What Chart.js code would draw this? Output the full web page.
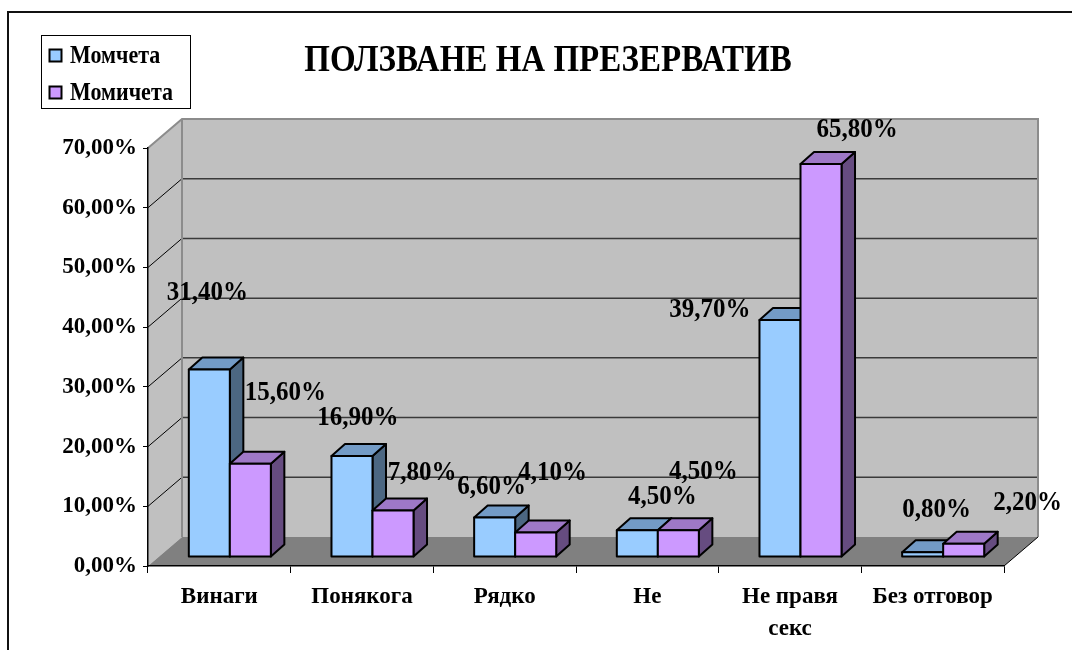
<!DOCTYPE html>
<html lang="bg">
<head>
<meta charset="utf-8">
<title>Ползване на презерватив</title>
<script src="https://cdn.jsdelivr.net/npm/chart.js@4.4.1/dist/chart.umd.min.js"></script>
<style>
  html, body { margin: 0; padding: 0; background: #fff; }
  #wrap { position: relative; width: 1072px; height: 650px; }
</style>
</head>
<body>
<div id="wrap"><canvas id="grafik" width="1072" height="650"></canvas></div>
<script>
// Данни (проценти)
const kategorii = ['Винаги', 'Понякога', 'Рядко', 'Не', ['Не правя', 'секс'], 'Без отговор'];
const momcheta  = [31.4, 16.9, 6.6, 4.5, 39.7, 0.8];
const momicheta = [15.6, 7.8, 4.1, 4.5, 65.8, 2.2];
const yTikove   = [0, 10, 20, 30, 40, 50, 60, 70];

const SHRIFT = '"Liberation Serif", "Times New Roman", serif';

// 3D наклон: стена (дълбочина на целия график) и колони
const STENA_DX = 34, STENA_DY = -29;
const BAR_OTM_DX = 10.5, BAR_OTM_DY = -9;    // колко навътре стоят колоните
const BAR_DX = 13.5, BAR_DY = -12;           // дълбочина на колоната

const CVETOVE = [
  { lice: '#99ccff', gore: '#739bc6', strana: '#4c6782' },
  { lice: '#cc99ff', gore: '#9e78c7', strana: '#664c80' },
];

// етикетите в оригинала са местени на ръка – отместване от горния ръб на колоната
const POMESTVANE = [
  [[-2, -77], [6, -38], [-3, -31], [25, -33], [-70, -10], [14, -42]],
  [[35, -71], [29, -38], [17, -60], [25, -58], [36, -34], [64, -41]],
];

const formatProcent = v => v.toFixed(2).replace('.', ',') + '%';

// текстът в Excel е малко разтеглен по височина
function tekst(ctx, t, x, y, razteg) {
  ctx.save();
  ctx.translate(x, y);
  ctx.scale(1, razteg);
  ctx.fillText(t, 0, 0);
  ctx.restore();
}

function kutia(ctx, x0, x1, yGore, yDolu, c) {
  ctx.lineWidth = 2;
  ctx.strokeStyle = '#000';
  ctx.lineJoin = 'round';
  // дясна страна
  ctx.beginPath();
  ctx.moveTo(x1, yDolu);
  ctx.lineTo(x1 + BAR_DX, yDolu + BAR_DY);
  ctx.lineTo(x1 + BAR_DX, yGore + BAR_DY);
  ctx.lineTo(x1, yGore);
  ctx.closePath();
  ctx.fillStyle = c.strana;
  ctx.fill();
  ctx.stroke();
  // горна страна
  ctx.beginPath();
  ctx.moveTo(x0, yGore);
  ctx.lineTo(x0 + BAR_DX, yGore + BAR_DY);
  ctx.lineTo(x1 + BAR_DX, yGore + BAR_DY);
  ctx.lineTo(x1, yGore);
  ctx.closePath();
  ctx.fillStyle = c.gore;
  ctx.fill();
  ctx.stroke();
  // лице
  ctx.fillStyle = c.lice;
  ctx.fillRect(x0, yGore, x1 - x0, yDolu - yGore);
  ctx.strokeRect(x0, yGore, x1 - x0, yDolu - yGore);
}

const pluginStena = {
  id: 'stena',
  beforeDraw(chart) {
    const { ctx, scales: { x, y } } = chart;
    const L = x.left, R = x.right, T = y.top, B = y.bottom;
    ctx.save();
    // рамка на целия график
    ctx.strokeStyle = '#111';
    ctx.lineWidth = 2;
    ctx.beginPath();
    ctx.moveTo(8, 660);
    ctx.lineTo(8, 12);
    ctx.lineTo(1080, 12);
    ctx.stroke();

    // задна стена
    ctx.fillStyle = '#c0c0c0';
    ctx.fillRect(L + STENA_DX, T + STENA_DY, R - L, B - T);
    // лява стена
    ctx.beginPath();
    ctx.moveTo(L, T);
    ctx.lineTo(L + STENA_DX, T + STENA_DY);
    ctx.lineTo(L + STENA_DX, B + STENA_DY);
    ctx.lineTo(L, B);
    ctx.closePath();
    ctx.fill();
    // под
    ctx.fillStyle = '#808080';
    ctx.beginPath();
    ctx.moveTo(L, B);
    ctx.lineTo(L + STENA_DX, B + STENA_DY);
    ctx.lineTo(R + STENA_DX, B + STENA_DY);
    ctx.lineTo(R, B);
    ctx.closePath();
    ctx.fill();

    // мрежа
    yTikove.forEach(v => {
      if (v === 0 || v === yTikove[yTikove.length - 1]) return;
      const yp = y.getPixelForValue(v);
      ctx.strokeStyle = '#3a3a3a';
      ctx.lineWidth = 1.5;
      ctx.beginPath();
      ctx.moveTo(L + STENA_DX, yp + STENA_DY);
      ctx.lineTo(R + STENA_DX, yp + STENA_DY);
      ctx.stroke();
      ctx.strokeStyle = '#000';
      ctx.lineWidth = 1;
      ctx.beginPath();
      ctx.moveTo(L, yp);
      ctx.lineTo(L + STENA_DX, yp + STENA_DY);
      ctx.stroke();
    });

    // ръбове на стените
    ctx.strokeStyle = '#8c8c8c';
    ctx.lineWidth = 2;
    ctx.beginPath();
    ctx.moveTo(L, T);
    ctx.lineTo(L + STENA_DX, T + STENA_DY);
    ctx.lineTo(R + STENA_DX, T + STENA_DY);
    ctx.lineTo(R + STENA_DX, B + STENA_DY);
    ctx.moveTo(L + STENA_DX, T + STENA_DY);
    ctx.lineTo(L + STENA_DX, B + STENA_DY);
    ctx.stroke();
    ctx.strokeStyle = '#000';
    ctx.lineWidth = 1;
    ctx.beginPath();
    ctx.moveTo(R, B);
    ctx.lineTo(R + STENA_DX, B + STENA_DY);
    ctx.stroke();
    ctx.restore();
  },

  afterDatasetsDraw(chart) {
    const { ctx } = chart;
    const mety = chart.data.datasets.map((d, i) => chart.getDatasetMeta(i));
    ctx.save();
    // по категории отляво надясно, за да се застъпват правилно
    kategorii.forEach((_, k) => {
      mety.forEach((meta, s) => {
        const el = meta.data[k];
        const x0 = el.x - el.width / 2 + BAR_OTM_DX;
        const x1 = el.x + el.width / 2 + BAR_OTM_DX;
        kutia(ctx, x0, x1, el.y + BAR_OTM_DY, el.base + BAR_OTM_DY, CVETOVE[s]);
      });
    });
    // етикети със стойности
    ctx.fillStyle = '#000';
    ctx.font = 'bold 25px ' + SHRIFT;
    ctx.textAlign = 'center';
    ctx.textBaseline = 'middle';
    mety.forEach((meta, s) => {
      const danni = chart.data.datasets[s].data;
      meta.data.forEach((el, k) => {
        const [dx, dy] = POMESTVANE[s][k];
        tekst(ctx, formatProcent(danni[k]), el.x + BAR_OTM_DX + dx, el.y + BAR_OTM_DY + dy, 1.1);
      });
    });
    ctx.restore();
  },

  afterDraw(chart) {
    const { ctx } = chart;
    ctx.save();
    // заглавие
    ctx.fillStyle = '#000';
    ctx.font = 'bold 33px ' + SHRIFT;
    ctx.textAlign = 'center';
    ctx.textBaseline = 'middle';
    tekst(ctx, 'ПОЛЗВАНЕ НА ПРЕЗЕРВАТИВ', 548, 61, 1.12);

    // легенда
    ctx.strokeStyle = '#000';
    ctx.lineWidth = 1;
    ctx.fillStyle = '#fff';
    ctx.fillRect(41.5, 35.5, 149, 73);
    ctx.strokeRect(41.5, 35.5, 149, 73);
    ctx.font = 'bold 22px ' + SHRIFT;
    ctx.textAlign = 'left';
    chart.data.datasets.forEach((d, i) => {
      const yc = 56 + i * 37;
      ctx.fillStyle = CVETOVE[i].lice;
      ctx.fillRect(49.5, yc - 6.5, 12, 12);
      ctx.lineWidth = 2;
      ctx.strokeRect(49.5, yc - 6.5, 12, 12);
      ctx.fillStyle = '#000';
      tekst(ctx, d.label, 70, yc + 1, 1.1);
    });
    ctx.restore();
  }
};

new Chart(document.getElementById('grafik').getContext('2d'), {
  type: 'bar',
  data: {
    labels: kategorii,
    datasets: [
      { label: 'Момчета', data: momcheta, backgroundColor: 'rgba(0,0,0,0)', borderWidth: 0 },
      { label: 'Момичета', data: momicheta, backgroundColor: 'rgba(0,0,0,0)', borderWidth: 0 },
    ]
  },
  options: {
    responsive: false,
    animation: false,
    events: [],
    datasets: { bar: { barPercentage: 1, categoryPercentage: 0.575 } },
    layout: { padding: { left: 0, right: 68, top: 148, bottom: 0 } },
    plugins: {
      legend: { display: false },
      title: { display: false },
      tooltip: { enabled: false },
    },
    scales: {
      x: {
        afterFit: s => { s.height = 84; },
        border: { display: true, color: '#000', width: 1.5 },
        grid: { drawOnChartArea: false, drawTicks: true, tickLength: 7, color: '#000', offset: true },
        ticks: {
          color: '#000',
          padding: 9,
          maxRotation: 0,
          autoSkip: false,
          font: { family: SHRIFT, size: 23, weight: 'bold', lineHeight: 1.35 },
        },
      },
      y: {
        min: 0,
        max: 70,
        afterFit: s => { s.width = 148; },
        afterBuildTicks: s => { s.ticks = yTikove.map(v => ({ value: v })); },
        border: { display: true, color: '#000', width: 1.5 },
        grid: { drawOnChartArea: false, drawTicks: true, tickLength: 5, color: '#000' },
        ticks: {
          color: '#000',
          padding: 6,
          font: { family: SHRIFT, size: 23, weight: 'bold' },
          callback: v => formatProcent(v),
        },
      }
    }
  },
  plugins: [pluginStena]
});
</script>
</body>
</html>
